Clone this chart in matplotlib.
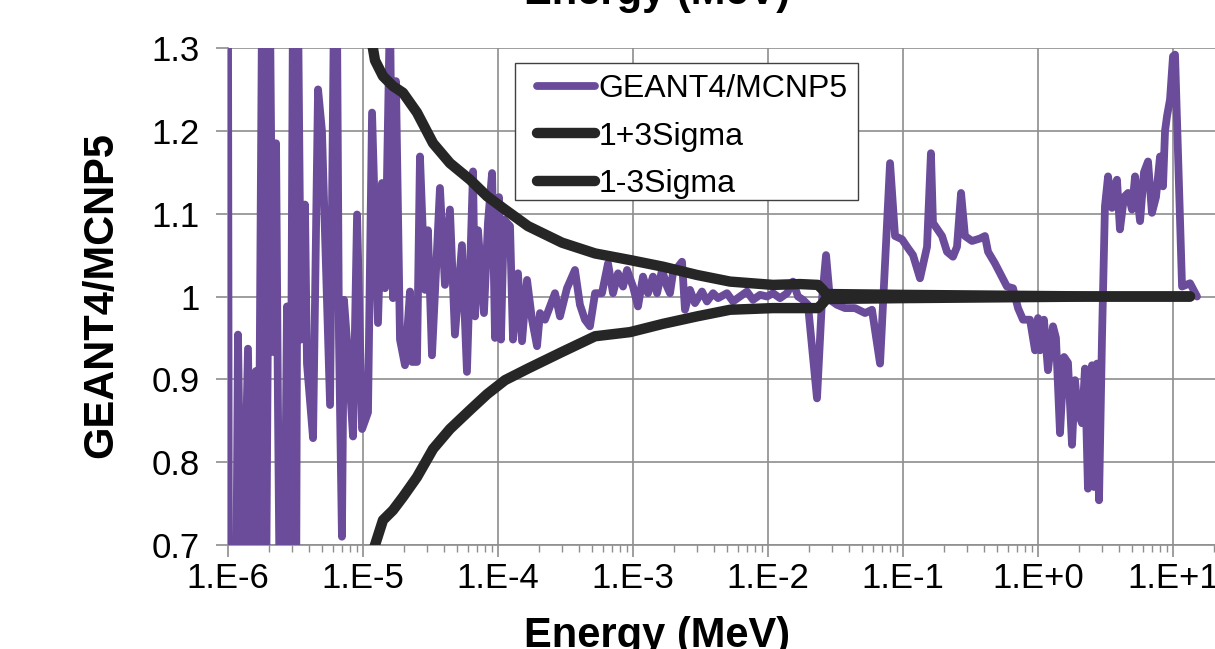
import numpy as np
import matplotlib
matplotlib.use("Agg")
import matplotlib.pyplot as plt
from matplotlib.patches import Rectangle
from matplotlib.ticker import FixedLocator, LogLocator, NullFormatter, FixedFormatter

plt.rcParams['font.family'] = ['Liberation Sans', 'DejaVu Sans']

# ---- data (log10 of energy in MeV, ratio values) ----
ratio_log_energy = [
    -6.000, -5.993, -5.941, -5.926, -5.896, -5.852, -5.822, -5.793, -5.778, -5.748,
    -5.719, -5.689, -5.667, -5.644, -5.630, -5.615, -5.585, -5.563, -5.541, -5.519,
    -5.496, -5.481, -5.459, -5.430, -5.415, -5.370, -5.333, -5.304, -5.244, -5.215,
    -5.193, -5.178, -5.156, -5.141, -5.111, -5.074, -5.044, -5.007, -4.963, -4.933,
    -4.889, -4.859, -4.837, -4.800, -4.778, -4.756, -4.726, -4.689, -4.652, -4.637,
    -4.600, -4.578, -4.541, -4.519, -4.489, -4.430, -4.393, -4.356, -4.319, -4.267,
    -4.230, -4.185, -4.170, -4.148, -4.104, -4.074, -4.044, -4.022, -3.993, -3.978,
    -3.956, -3.911, -3.889, -3.852, -3.822, -3.785, -3.748, -3.711, -3.689, -3.652,
    -3.615, -3.578, -3.541, -3.489, -3.430, -3.393, -3.356, -3.319, -3.281, -3.230,
    -3.185, -3.148, -3.111, -3.074, -3.044, -3.000, -2.963, -2.926, -2.889, -2.852,
    -2.822, -2.785, -2.748, -2.726, -2.704, -2.637, -2.615, -2.578, -2.541, -2.489,
    -2.452, -2.407, -2.370, -2.304, -2.259, -2.207, -2.156, -2.111, -2.059, -2.007,
    -1.963, -1.911, -1.859, -1.815, -1.778, -1.741, -1.704, -1.637, -1.600, -1.570,
    -1.541, -1.489, -1.430, -1.356, -1.281, -1.230, -1.170, -1.133, -1.096, -1.059,
    -1.007, -0.970, -0.926, -0.874, -0.822, -0.793, -0.778, -0.711, -0.674, -0.630,
    -0.600, -0.570, -0.541, -0.489, -0.430, -0.393, -0.370, -0.319, -0.281, -0.230,
    -0.185, -0.148, -0.111, -0.059, -0.022, 0.000, 0.015, 0.044, 0.074, 0.111,
    0.133, 0.163, 0.193, 0.222, 0.252, 0.274, 0.296, 0.326, 0.348, 0.370,
    0.400, 0.415, 0.437, 0.452, 0.474, 0.496, 0.519, 0.548, 0.563, 0.585,
    0.607, 0.637, 0.667, 0.696, 0.719, 0.756, 0.785, 0.815, 0.844, 0.874,
    0.904, 0.926, 0.941, 0.956, 0.978, 1.000, 1.015, 1.067, 1.126, 1.178,
]
ratio_values = [
    1.350, 0.600, 0.600, 0.954, 0.600, 0.937, 0.600, 0.910, 0.600, 1.350,
    0.600, 1.350, 0.933, 1.185, 0.870, 0.600, 0.600, 0.988, 0.600, 1.350,
    0.600, 1.350, 0.948, 1.111, 0.919, 0.829, 1.250, 1.200, 0.869, 1.350,
    1.350, 0.950, 0.710, 0.996, 0.930, 0.831, 1.099, 0.840, 0.860, 1.222,
    0.968, 1.137, 1.010, 1.350, 0.998, 1.260, 0.948, 0.917, 1.006, 0.921,
    0.921, 1.169, 1.008, 1.080, 0.929, 1.131, 1.014, 1.105, 0.954, 1.062,
    0.909, 1.151, 0.976, 1.080, 0.980, 1.090, 1.149, 0.950, 1.120, 0.948,
    1.093, 1.085, 0.948, 1.028, 0.946, 1.020, 0.972, 0.940, 0.980, 0.972,
    0.988, 1.004, 0.976, 1.010, 1.032, 0.990, 0.972, 0.964, 1.004, 1.004,
    1.040, 1.004, 1.028, 1.012, 1.032, 1.012, 0.988, 1.024, 1.004, 1.024,
    1.004, 1.032, 1.012, 1.004, 1.028, 1.042, 0.984, 1.008, 0.992, 1.006,
    0.994, 1.004, 0.998, 1.004, 0.994, 1.000, 1.006, 0.996, 1.002, 1.000,
    1.004, 0.998, 1.004, 1.018, 1.000, 0.996, 0.990, 0.877, 0.996, 1.050,
    0.996, 0.990, 0.986, 0.986, 0.980, 0.984, 0.919, 1.040, 1.161, 1.073,
    1.069, 1.060, 1.050, 1.022, 1.060, 1.173, 1.089, 1.073, 1.054, 1.048,
    1.060, 1.125, 1.073, 1.067, 1.070, 1.073, 1.054, 1.040, 1.028, 1.012,
    1.010, 0.986, 0.972, 0.972, 0.935, 0.974, 0.935, 0.972, 0.911, 0.964,
    0.950, 0.835, 0.927, 0.920, 0.821, 0.899, 0.860, 0.847, 0.913, 0.768,
    0.917, 0.770, 0.919, 0.754, 0.950, 1.109, 1.145, 1.107, 1.130, 1.141,
    1.081, 1.120, 1.125, 1.105, 1.145, 1.091, 1.150, 1.163, 1.101, 1.120,
    1.169, 1.133, 1.200, 1.218, 1.238, 1.290, 1.292, 1.012, 1.016, 1.000,
]

sigma_log_energy = [
    -4.948, -4.911, -4.852, -4.778, -4.704, -4.600, -4.481, -4.356, -4.207, -4.081,
    -3.948, -3.778, -3.526, -3.281, -3.022, -2.778, -2.526, -2.281, -1.963, -1.763,
    -1.630, -1.593, -1.570, -1.022, -0.281, 0.459, 1.126,
]
upper_3sigma = [
    1.320, 1.285, 1.266, 1.254, 1.246, 1.222, 1.185, 1.161, 1.141, 1.121,
    1.105, 1.085, 1.065, 1.052, 1.044, 1.036, 1.026, 1.018, 1.014, 1.015,
    1.014, 1.008, 1.003, 1.002, 1.001, 1.000, 1.000,
]
lower_3sigma = [
    0.680, 0.700, 0.730, 0.742, 0.758, 0.782, 0.816, 0.840, 0.863, 0.882,
    0.899, 0.913, 0.933, 0.952, 0.957, 0.967, 0.976, 0.984, 0.986, 0.986,
    0.986, 0.992, 0.997, 0.998, 0.999, 1.000, 1.000,
]

x_tick_values = [1e-6, 1e-5, 1e-4, 1e-3, 1e-2, 1e-1, 1e0, 1e1]
x_tick_labels = ["1.E-6", "1.E-5", "1.E-4", "1.E-3", "1.E-2", "1.E-1", "1.E+0", "1.E+1"]
y_tick_values = [0.7, 0.8, 0.9, 1.0, 1.1, 1.2, 1.3]
y_tick_labels = ["0.7", "0.8", "0.9", "1", "1.1", "1.2", "1.3"]

series_names = ["GEANT4/MCNP5", "1+3Sigma", "1-3Sigma"]

# ---- figure ----
W, H = 1215, 649
fig = plt.figure(figsize=(W / 100, H / 100), dpi=100)
ax_left, ax_bottom, ax_right, ax_top = 228, 545, 1215, 48
ax = fig.add_axes([ax_left / W, 1 - ax_bottom / H, (ax_right - ax_left) / W,
                   (ax_bottom - ax_top) / H])

purple = '#6A4C9B'
black = '#262626'
grid_c = '#8E8E8E'

ratio_E = 10 ** np.array(ratio_log_energy)
sigma_E = 10 ** np.array(sigma_log_energy)

ax.plot(ratio_E, ratio_values, color=purple, lw=5.6, solid_joinstyle='round',
        solid_capstyle='round', label=series_names[0], zorder=3)
ax.plot(sigma_E, upper_3sigma, color=black, lw=7.5, solid_joinstyle='round',
        solid_capstyle='round', label=series_names[1], zorder=4)
ax.plot(sigma_E, lower_3sigma, color=black, lw=7.5, solid_joinstyle='round',
        solid_capstyle='round', label=series_names[2], zorder=4)

ax.set_xscale('log')
decades_per_px = 1 / 135
ax.set_xlim(1e-6, 10 ** (-6 + (ax_right - ax_left) * decades_per_px))
ax.set_ylim(0.7, 1.3)

ax.xaxis.set_major_locator(FixedLocator(x_tick_values))
ax.xaxis.set_major_formatter(FixedFormatter(x_tick_labels))
ax.xaxis.set_minor_locator(LogLocator(base=10, subs=np.arange(2, 10), numticks=20))
ax.xaxis.set_minor_formatter(NullFormatter())
ax.yaxis.set_major_locator(FixedLocator(y_tick_values))
ax.yaxis.set_major_formatter(FixedFormatter(y_tick_labels))

ax.grid(True, which='major', color=grid_c, lw=1.2)
ax.set_axisbelow(True)
for s in ['top', 'right']:
    ax.spines[s].set_visible(False)
for s in ['left', 'bottom']:
    ax.spines[s].set_color(grid_c)
    ax.spines[s].set_linewidth(1.2)

ax.tick_params(axis='x', which='major', direction='out', length=8.5, width=1.2,
               color=grid_c, labelsize=25, pad=4, labelcolor='black')
ax.tick_params(axis='x', which='minor', direction='out', length=5, width=1.0,
               color=grid_c)
ax.tick_params(axis='y', which='major', direction='out', length=8.5, width=1.2,
               color=grid_c, labelsize=25, pad=12, labelcolor='black')

# legend frame (drawn explicitly to match the reference box)
box_l, box_t, box_r, box_b = 515, 63, 858, 200
frame = Rectangle((box_l / W, 1 - box_b / H), (box_r - box_l) / W, (box_b - box_t) / H,
                  transform=fig.transFigure, facecolor='white', edgecolor='#404040',
                  lw=1.0, zorder=5, clip_on=False)
ax.add_patch(frame)

leg = ax.legend(loc='upper left', bbox_to_anchor=(537 / W, 1 - 74 / H),
                bbox_transform=fig.transFigure, fontsize=23, frameon=False,
                borderpad=0, labelspacing=0.55,
                handlelength=1.8, handletextpad=0.12, borderaxespad=0)
leg.set_zorder(6)

fig.text(657 / W, 1 - 4 / H, "Energy (MeV)", ha='center', va='baseline',
         fontsize=30, fontweight='bold')
fig.text(657 / W, 1 - 647 / H, "Energy (MeV)", ha='center', va='baseline',
         fontsize=30, fontweight='bold')
fig.text(101 / W, 1 - 295 / H, "GEANT4/MCNP5", ha='center', va='center',
         rotation=90, fontsize=30, fontweight='bold')

fig.savefig('out.png', dpi=100)
